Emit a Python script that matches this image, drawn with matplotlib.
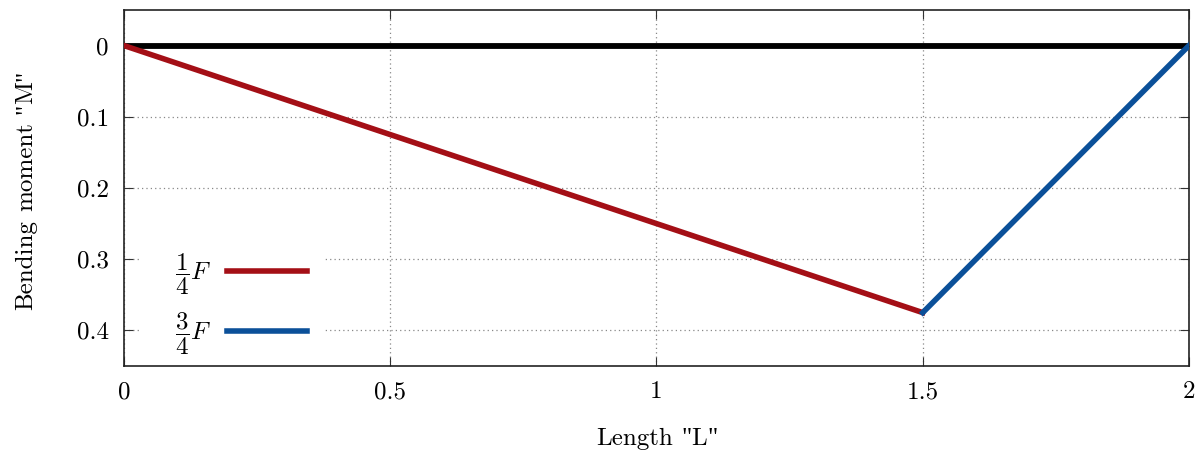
import matplotlib.pyplot as plt
from matplotlib import transforms
from matplotlib.patches import Rectangle

# data
beam_x = [0, 2]
beam_y = [0, 0]
left_x = [0, 1.5]
left_y = [0, 0.375]
right_x = [1.5, 2]
right_y = [0.375, 0]
x_ticks = [0, 0.5, 1, 1.5, 2]
x_labels = ['0', '0.5', '1', '1.5', '2']
y_ticks = [0, 0.1, 0.2, 0.3, 0.4]
y_labels = ['0', '0.1', '0.2', '0.3', '0.4']
x_title = [('Length', 'cmr10'), (' ', None), ('"', 'Liberation Serif'),
           ('L', 'cmr10'), ('"', 'Liberation Serif')]
y_title = [('Bending', 'cmr10'), (' ', None), ('moment', 'cmr10'), (' ', None),
           ('"', 'Liberation Serif'), ('M', 'cmr10'), ('"', 'Liberation Serif')]

plt.rcParams['font.family'] = 'cmr10'
plt.rcParams['mathtext.fontset'] = 'cm'
plt.rcParams['axes.formatter.use_mathtext'] = True

SIZE = 18


def pieced_label(fig, cx, cy, pieces, rotation=0):
    """Draw a label made of pieces in different fonts, centred at (cx, cy)."""
    renderer = fig.canvas.get_renderer()
    probe_a = fig.text(0, 0, 'xx', size=SIZE)
    probe_b = fig.text(0, 0, 'x x', size=SIZE)
    space = (probe_b.get_window_extent(renderer).width
             - probe_a.get_window_extent(renderer).width)
    probe_a.remove()
    probe_b.remove()

    texts, widths = [], []
    for s, fam in pieces:
        if fam is None:
            texts.append(None)
            widths.append(space)
            continue
        t = fig.text(cx, cy, s, family=fam, size=SIZE, rotation=rotation,
                     ha='left', va='baseline', rotation_mode='anchor')
        bb = t.get_window_extent(renderer)
        texts.append(t)
        widths.append(bb.width if rotation == 0 else bb.height)
    off = -sum(widths) / 2
    for t, w in zip(texts, widths):
        if t is not None:
            if rotation == 0:
                tr = transforms.offset_copy(fig.transFigure, fig=fig, x=off, y=0, units='dots')
            else:
                tr = transforms.offset_copy(fig.transFigure, fig=fig, x=0, y=off, units='dots')
            t.set_transform(tr)
        off += w


fig = plt.figure(figsize=(12.04, 4.53), dpi=100)
ax = fig.add_axes([0.103, 0.192, 0.8845, 0.786])

ax.plot(beam_x, beam_y, color='black', lw=4.2, solid_capstyle='butt', zorder=3)
ax.plot(left_x, left_y, color='#a40f16', lw=4.0, label=r'$\dfrac{1}{4}F$', zorder=4)
ax.plot(right_x, right_y, color='#0b5099', lw=4.0, label=r'$\dfrac{3}{4}F$', zorder=4)

ax.set_xlim(0, 2)
ax.set_ylim(0.45, -0.05)
ax.set_xticks(x_ticks, x_labels)
ax.set_yticks(y_ticks, y_labels)
ax.tick_params(direction='in', length=6.5, labelsize=SIZE, top=True, right=True,
               pad=11, color='#333333')
ax.grid(True, linestyle=(0, (1, 2.5)), color='#888888', lw=0.9)
for s in ax.spines.values():
    s.set_linewidth(1.2)
    s.set_color('#222222')

# white key background, hides the grid behind the key
ax.add_patch(Rectangle((0.017, 0.0), 0.172, 0.37, transform=ax.transAxes,
                       facecolor='white', edgecolor='none', zorder=1.8))

leg = ax.legend(loc='lower left', bbox_to_anchor=(0.048, 0.025), markerfirst=False,
                frameon=False, fontsize=SIZE, handlelength=3.2, handletextpad=0.6,
                labelspacing=0.53, borderpad=0.0, borderaxespad=0.0)
leg.set_zorder(5)

pieced_label(fig, 657 / 1204, 8 / 453, x_title)
pieced_label(fig, 32 / 1204, 263 / 453, y_title, rotation=90)

fig.savefig('out.png', dpi=100)
